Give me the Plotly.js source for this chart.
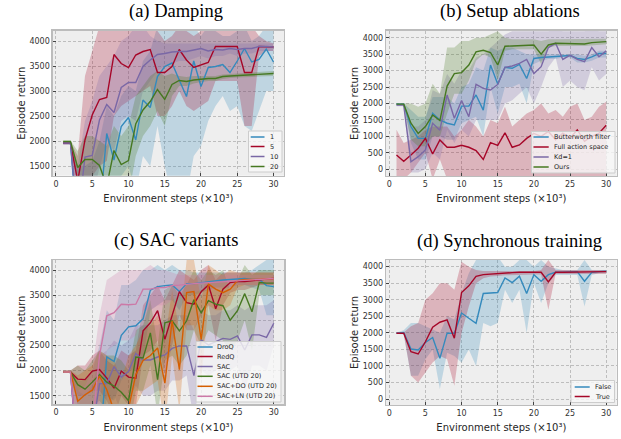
<!DOCTYPE html>
<html><head><meta charset="utf-8">
<script src="https://cdn.plot.ly/plotly-3.0.1.min.js"></script>
<style>html,body{margin:0;padding:0;background:#fff}#chart{width:621px;height:439px}</style>
</head><body><div id="chart"></div>
<script>
// ---------- data ----------
const steps = [1,2,3,4,5,6,7,8,9,10,11,12,13,14,15,16,17,18,19,20,21,22,23,24,25,26,27,28,29,30];
const xTicks = [0,5,10,15,20,25,30];
const yTicksTop = [1500,2000,2500,3000,3500,4000];
const yTicksAll = [0,500,1000,1500,2000,2500,3000,3500,4000];
const subplotTitles = ['(a) Damping','(b) Setup ablations','(c) SAC variants','(d) Synchronous training'];
const xTitle = 'Environment steps (×10³)';
const yTitle = 'Episode return';

// (a) Damping
const dampNames = ['1','5','10','20'];
const damp1Mean = [1960,1960,200,300,400,500,2150,1620,2290,2470,2020,2820,2670,3290,3490,3560,3220,2890,3600,3090,3470,3490,3530,3370,3600,3850,3580,3630,3840,3580];
const damp1Hi   = [1990,1990,1500,1500,1600,2000,2700,2500,2900,3100,3000,3600,3800,4300,4300,4300,4300,4200,4300,4100,4300,4200,4100,4100,4200,4300,4000,4100,4300,4300];
const damp1Lo   = [1930,1930,-500,-500,-500,-500,1300,700,1300,1500,1000,1700,1500,2300,1500,900,800,900,1700,1900,2400,2700,2900,2600,2700,2300,2200,2600,3000,3000];
const damp5Mean = [1960,1960,1200,2020,2520,2830,2870,3730,3550,3470,3720,3790,3830,3370,3370,3490,3830,3620,3470,3520,3570,3890,3890,3890,3890,3370,3370,3890,3890,3880];
const damp5Hi   = [1990,1990,1700,3300,3800,4300,4300,4300,4300,4300,4300,4300,4300,4200,4000,4100,4300,4200,4100,4200,4200,4300,4300,4200,4200,4300,4300,4100,4000,3950];
const damp5Lo   = [1930,1930,500,1000,1300,1500,1600,2500,2700,2800,2900,3000,3100,2500,2500,2700,3000,2700,2600,2700,2800,3200,3200,3200,3200,2300,2300,3700,3800,3800];
const damp10Mean = [1960,1960,400,1680,1710,2420,2730,2570,3070,3170,3170,3490,3620,3730,3750,3780,3790,3790,3820,3850,3800,3830,3820,3850,3830,3850,3850,3890,3890,3880];
const damp10Hi   = [1990,1990,1500,2400,2800,3300,3500,3700,4000,4100,4300,4300,4100,4000,3950,3950,3950,3950,3950,3950,3950,3950,3950,3950,3950,3950,3950,3950,3950,3950];
const damp10Lo   = [1930,1930,-500,1000,900,1500,2000,1800,2400,2500,2400,3000,3200,3400,3500,3550,3600,3600,3650,3700,3650,3700,3700,3750,3700,3750,3750,3800,3800,3800];
const damp20Mean = [1990,1990,1470,1630,1630,1510,1100,1810,1530,1610,2340,2620,2790,3030,2830,3130,3210,3190,3220,3240,3250,3250,3290,3300,3310,3320,3320,3340,3350,3350];
const damp20Hi   = [2010,2010,1800,2100,2100,2000,1900,2300,2100,2300,2900,3100,3300,3400,3300,3350,3300,3280,3300,3300,3300,3300,3330,3340,3350,3360,3370,3390,3400,3400];
const damp20Lo   = [1970,1970,1100,1200,1200,1000,500,1300,900,900,1700,2100,2300,2600,2300,2900,3100,3100,3150,3180,3200,3200,3240,3260,3270,3280,3280,3290,3300,3300];

// (b) Setup ablations
const setupNames = ['Butterworth filter','Full action space','Kd=1','Ours'];
const bwMean = [1980,1980,1300,940,940,1700,1500,1400,1350,1920,1920,2260,1800,3170,2590,3100,3070,3190,2760,3370,3400,3420,3440,3450,3460,3370,3340,3420,3520,3520];
const bwHi   = [2010,2010,1800,1600,1600,2200,2200,2200,2000,2500,2600,3100,3000,3700,3600,3700,3700,3600,3500,3500,3500,3500,3500,3500,3500,3500,3450,3500,3600,3600];
const bwLo   = [1950,1950,800,300,300,1000,1000,900,900,1400,1500,1600,1000,2500,1700,2500,2500,2600,2000,3200,3300,3350,3350,3400,3400,3250,3250,3300,3400,3400];
const fullMean = [435,243,435,640,940,465,890,670,670,730,670,570,300,810,730,1110,670,740,940,1090,1000,1150,900,1100,950,1200,850,1000,1100,1340];
const fullHi   = [1200,800,900,1000,1200,1300,1300,1300,1000,1200,1500,1300,1000,1500,1400,1900,1300,1500,1700,1800,2000,1700,1800,1600,1900,2000,1500,1600,1900,2050];
const fullLo   = [-300,-300,-100,200,500,-300,300,-300,-300,-300,-300,-300,-400,-300,-300,-300,-300,-300,-300,-300,-300,-300,-300,-300,-300,-300,-300,-300,-300,-300];
const kdMean = [1950,1950,230,385,590,1400,1190,2260,1550,2090,1600,2580,2460,2410,2580,3100,3140,3220,3340,2910,3120,3700,3830,3340,3470,3340,3270,3700,3420,3600];
const kdHi   = [1980,1980,1300,1300,1500,2400,2300,2900,2600,3000,3000,3400,3500,3700,3900,4100,4200,4200,4200,4200,4200,4200,4250,4200,4200,4200,4200,4250,4200,4200];
const kdLo   = [1920,1920,-100,-100,0,500,300,1200,800,1200,1000,1500,1500,1500,1500,2000,2100,2300,2500,2000,2500,3100,3400,2500,2700,2500,2400,3100,2700,2900];
const oursMean = [1980,1980,1400,1090,1300,1650,1480,2530,2910,2940,3170,3570,3620,3550,3170,3740,3750,3760,3760,3780,3500,3780,3830,3830,3830,3830,3810,3850,3860,3880];
const oursHi   = [2010,2010,2000,1900,2000,2600,2300,3700,3700,3900,3900,4000,4000,4100,4200,4000,3950,3950,3950,3950,3900,3950,3950,3950,3950,3950,3950,3950,3960,3970];
const oursLo   = [1950,1950,900,700,700,1000,1000,1700,2300,2300,2700,3300,3500,3400,2700,3600,3650,3650,3650,3650,3200,3700,3750,3750,3750,3750,3750,3780,3780,3800];

// (c) SAC variants
const sacNames = ['DroQ','RedQ','SAC','SAC (UTD 20)','SAC+DO (UTD 20)','SAC+LN (UTD 20)'];
const droqMean = [1970,1970,200,250,300,400,2270,2180,2700,2870,2890,3030,3600,3670,3690,3700,3570,3730,3730,3750,3770,3790,3800,3810,3820,3830,3810,3810,3690,3670];
const droqHi   = [1990,1990,1800,1800,2000,2500,3200,3000,3700,3700,3800,4000,4000,4100,4000,4100,4000,4000,3950,3950,3950,3950,3950,3950,3950,3950,4000,4100,4200,4200];
const droqLo   = [1950,1950,-500,-500,-500,-300,1500,1400,1800,2000,2000,2200,3200,3300,3400,3400,3200,3500,3500,3550,3600,3650,3650,3650,3700,3700,3650,3600,3100,3100];
const redqMean = [1970,1970,1830,1820,1990,2020,1850,1650,1990,1870,1850,2790,2950,3190,2620,3090,3570,3350,3320,3570,3700,3230,3620,3750,3770,3770,3790,3810,3820,3830];
const redqHi   = [2000,2000,2100,2100,2300,2400,2200,2100,2400,2300,2400,3300,3500,3700,3400,3700,4000,3900,3800,4000,4100,3800,3950,3950,3950,3950,3950,3950,3950,3950];
const redqLo   = [1950,1950,1500,1500,1600,1600,1400,1100,1500,1300,1300,2300,2400,2600,1900,2500,3100,2800,2800,3100,3300,2600,3300,3550,3600,3600,3650,3700,3700,3700];
const sacMean = [1970,1970,300,400,800,1740,1740,2080,1870,1980,2340,2210,2210,2270,2310,2440,2490,2490,1900,2610,2510,2570,2640,2620,2690,2410,2710,2710,2660,2940];
const sacHi   = [2000,2000,1600,1500,1700,2300,2400,2600,2500,2600,2900,2900,2900,2900,3000,3100,3100,3100,2800,3200,3100,3100,3200,3200,3300,3200,3300,3300,3300,3400];
const sacLo   = [1950,1950,-500,-500,-300,1100,1100,1500,1200,1400,1700,1500,1500,1600,1600,1800,1800,1900,1000,2000,1900,2000,2100,2000,2100,1600,2100,2100,2000,2500];
const sacUtdMean = [1970,1970,1720,1630,1770,1920,1770,1690,1570,1400,2270,2250,2750,1820,2950,2990,2790,2990,3410,3150,3390,3320,3290,3000,3190,3530,3170,3750,3740,3740];
const sacUtdHi   = [2000,2000,2100,2000,2200,2400,2300,2300,2200,2000,2800,2900,3400,2500,3600,3700,3500,3700,4000,3800,4000,3900,4000,3600,3800,4100,3900,4000,4000,4000];
const sacUtdLo   = [1950,1950,1300,1200,1300,1400,1200,1100,900,800,1600,1600,2100,1100,2200,2300,2100,2300,2800,2500,2800,2700,2600,2400,2600,3000,2400,3500,3500,3500];
const sacDoMean = [1970,1970,1390,1520,1610,1890,1620,1200,1000,1250,1920,2200,2300,2450,1750,2990,2020,3550,3570,2620,3720,3620,3550,3620,3790,3810,3810,3820,3830,3830];
const sacDoHi   = [2000,2000,1900,2000,2100,2400,2300,2200,1800,2300,2500,2800,2900,3100,2600,3600,2800,4200,4200,3400,4100,4000,3900,4000,3950,3950,3950,3950,3950,3950];
const sacDoLo   = [1950,1950,800,1000,1100,1300,900,500,300,600,1300,1600,1700,1800,900,2300,1200,2900,2900,1800,3300,3200,3200,3300,3650,3700,3700,3700,3700,3700];
const sacLnMean = [1970,1970,300,500,900,2300,3090,3150,3320,3310,3320,3620,3620,3650,3650,3690,3700,3720,3730,3740,3750,3760,3770,3780,3790,3800,3810,3820,3830,3830];
const sacLnHi   = [2000,2000,1600,1700,2000,3100,3800,3900,4000,4000,4000,4000,4100,4000,4000,3950,3900,3900,3900,3900,3900,3900,3900,3900,3900,3900,3900,3900,3900,3900];
const sacLnLo   = [1950,1950,-500,-500,-200,1400,2400,2500,2600,2600,2700,3200,3200,3300,3300,3400,3500,3550,3550,3600,3600,3600,3650,3650,3700,3700,3700,3700,3700,3700];

// (d) Synchronous training
const syncNames = ['False','True'];
const falseMean = [1990,2010,1510,1480,1710,1860,1230,1990,1990,2600,2440,2290,3190,3200,3220,3660,3520,3710,3190,3760,3560,3760,3830,3830,3830,3850,3560,3830,3850,3860];
const falseHi   = [2010,2080,2300,2300,2200,2100,2000,2500,2400,3200,3800,4200,4200,4300,4300,4000,4000,4200,4200,4000,4200,4000,3950,3900,3900,3900,4200,3900,3900,3900];
const falseLo   = [1970,1950,700,700,1200,1500,300,1400,1300,1100,1500,1000,2300,2200,2300,3300,2900,3300,2000,3500,2900,3500,3750,3750,3750,3750,2800,3750,3800,3800];
const trueMean = [1990,1990,1430,1360,1730,2170,2320,2390,1840,3220,3420,3710,3760,3780,3800,3810,3820,3830,3830,3810,3830,3540,3830,3830,3830,3830,3830,3840,3840,3850];
const trueHi   = [2010,2010,2200,2300,3000,3200,3500,3500,3300,4150,4000,3900,3870,3870,3870,3870,3870,3870,3870,3870,3900,4200,3900,3900,3900,3900,3900,3900,3900,3900];
const trueLo   = [1970,1970,700,500,800,1100,1300,1200,400,2000,2800,3500,3650,3700,3720,3740,3750,3760,3760,3760,3760,2700,3780,3780,3780,3780,3780,3780,3780,3780];

// ---------- styling / layout ----------
const W = 621, H = 439;
const px = v => v / W, py = v => 1 - v / H;
const COL = ['#348ABD','#A60628','#7A68A6','#467821','#D55E00','#CC79A7'];
function rgba(hex, a){const n=parseInt(hex.slice(1),16);return `rgba(${n>>16},${(n>>8)&255},${n&255},${a})`;}

const panels = [
  {xa:'x', ya:'y', box:[52.7,284,30.7,175.7], yr:[1306,4206], yt:yTicksTop, title:subplotTitles[0], tpos:[176,12],
   series:[[dampNames[0],damp1Mean,damp1Lo,damp1Hi,0],[dampNames[1],damp5Mean,damp5Lo,damp5Hi,1],[dampNames[2],damp10Mean,damp10Lo,damp10Hi,2],[dampNames[3],damp20Mean,damp20Lo,damp20Hi,3]],
   leg:{box:[248.5,282,131,172], ys:[137,146.5,156.5,166.5], lx:[250.7,264.5], tx:268}},
  {xa:'x2', ya:'y2', box:[386,616.7,30.7,176], yr:[-203,4213], yt:yTicksAll, title:subplotTitles[1], tpos:[509.5,12],
   series:[[setupNames[0],bwMean,bwLo,bwHi,0],[setupNames[1],fullMean,fullLo,fullHi,1],[setupNames[2],kdMean,kdLo,kdHi,2],[setupNames[3],oursMean,oursLo,oursHi,3]],
   leg:{box:[531.5,615,131.5,173], ys:[137,147,157,167], lx:[533.5,548.7], tx:552}},
  {xa:'x3', ya:'y3', box:[52.7,284.3,260,404.3], yr:[1329,4199], yt:yTicksTop, title:subplotTitles[2], tpos:[176,240.5],
   series:[[sacNames[0],droqMean,droqLo,droqHi,0],[sacNames[1],redqMean,redqLo,redqHi,1],[sacNames[2],sacMean,sacLo,sacHi,2],[sacNames[3],sacUtdMean,sacUtdLo,sacUtdHi,3],[sacNames[4],sacDoMean,sacDoLo,sacDoHi,4],[sacNames[5],sacLnMean,sacLnLo,sacLnHi,5]],
   leg:{box:[196,281,341.5,402], ys:[347,356.5,366.5,376.3,386.3,396.3], lx:[197.5,212.7], tx:215}},
  {xa:'x4', ya:'y4', box:[386,616.7,260,405], yr:[-181,4202], yt:yTicksAll, title:subplotTitles[3], tpos:[509,241],
   series:[[syncNames[0],falseMean,falseLo,falseHi,0],[syncNames[1],trueMean,trueLo,trueHi,1]],
   leg:{box:[571,614.5,380.5,402.5], ys:[387,396.5], lx:[574.7,589.7], tx:593}}
];

const bands = [], lines = [];
const layout = {
  width: W, height: H, margin:{l:0,r:0,t:0,b:0}, paper_bgcolor:'#ffffff', plot_bgcolor:'#eeeeee',
  showlegend:false, annotations:[], shapes:[], hovermode:false
};
const tickFont = {family:'DejaVu Sans', size:8, color:'#333333'};
const titleFont = {family:'DejaVu Sans', size:10, color:'#262626'};
const serifFont = {family:'"Liberation Serif", "Times New Roman", "DejaVu Serif", serif', size:18.5, color:'#000'};
const xsteps = steps.concat(steps.slice().reverse());

panels.forEach((p, i) => {
  const n = i === 0 ? '' : String(i+1);
  const common = {
    ticks:'inside', ticklen:3, tickwidth:1, tickcolor:'#444',
    showgrid:true, gridcolor:'#b0b0b0', griddash:'3px,2px', gridwidth:0.8, zeroline:false,
    showline:true, mirror:true, linecolor:'#bcbcbc', linewidth:1.3, tickfont:tickFont, fixedrange:true, tickmode:'array'
  };
  layout['xaxis'+n] = Object.assign({}, common, {
    domain:[px(p.box[0]), px(p.box[1])], anchor:p.ya, range:[-0.45,31.45], tickvals:xTicks,
    title:{text:xTitle, font:titleFont, standoff:7}
  });
  layout['yaxis'+n] = Object.assign({}, common, {
    domain:[py(p.box[3]), py(p.box[2])], anchor:p.xa, range:p.yr, tickvals:p.yt,
    title:{text:yTitle, font:titleFont, standoff:2}
  });
  layout.annotations.push({text:p.title, xref:'paper', yref:'paper', x:px(p.tpos[0]), y:py(p.tpos[1]),
    xanchor:'center', yanchor:'middle', showarrow:false, font:serifFont});
  p.series.forEach(s => {
    const [name, mean, lo, hi, ci] = s;
    bands.push({type:'scatter', mode:'lines', x:xsteps, y:hi.concat(lo.slice().reverse()), fill:'toself',
      fillcolor:rgba(COL[ci],0.25), line:{width:0}, xaxis:p.xa, yaxis:p.ya, hoverinfo:'skip', name:name+' band'});
    lines.push({type:'scatter', mode:'lines', x:steps, y:mean, line:{color:COL[ci], width:1.4},
      xaxis:p.xa, yaxis:p.ya, name:name});
  });
  // legend box drawn as layout decoration
  const L = p.leg;
  layout.shapes.push({type:'rect', xref:'paper', yref:'paper', x0:px(L.box[0]), x1:px(L.box[1]), y0:py(L.box[3]), y1:py(L.box[2]),
    fillcolor:'rgba(248,248,248,0.8)', line:{color:'#cccccc', width:1}, layer:'above'});
  p.series.forEach((s, k) => {
    layout.shapes.push({type:'line', xref:'paper', yref:'paper', x0:px(L.lx[0]), x1:px(L.lx[1]), y0:py(L.ys[k]), y1:py(L.ys[k]),
      line:{color:COL[s[4]], width:1.5}, layer:'above'});
    layout.annotations.push({text:s[0], xref:'paper', yref:'paper', x:px(L.tx), y:py(L.ys[k]), xanchor:'left', yanchor:'middle',
      showarrow:false, font:{family:'DejaVu Sans', size:6.5, color:'#262626'}});
  });
});

Plotly.newPlot('chart', bands.concat(lines), layout, {displayModeBar:false, staticPlot:true});
</script>
</body></html>
